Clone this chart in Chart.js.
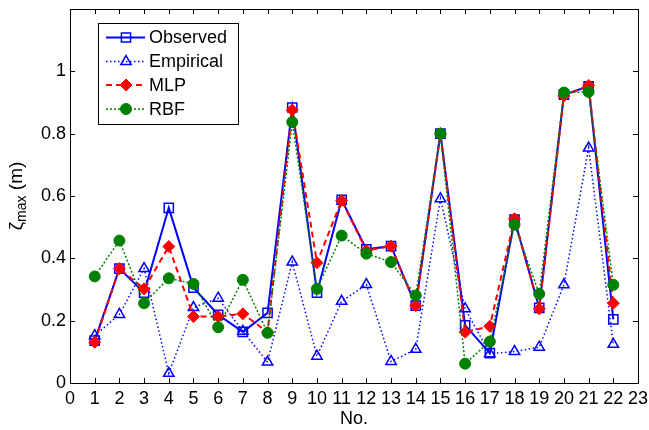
<!DOCTYPE html>
<html>
<head>
<meta charset="utf-8">
<script src="https://cdn.jsdelivr.net/npm/chart.js@4"></script>
<style>
  html, body { margin: 0; padding: 0; background: #fff; }
  #wrap { width: 649px; height: 430px; }
</style>
</head>
<body>
<div id="wrap"><canvas id="chart" width="649" height="430"></canvas></div>
<script>
const caseNos = [1, 2, 3, 4, 5, 6, 7, 8, 9, 10, 11, 12, 13, 14, 15, 16, 17, 18, 19, 20, 21, 22];
const observed = [0.136, 0.367, 0.29, 0.562, 0.306, 0.219, 0.164, 0.225, 0.884, 0.29, 0.588, 0.429, 0.439, 0.248, 0.80, 0.185, 0.096, 0.524, 0.241, 0.925, 0.952, 0.204];
const empirical = [0.152, 0.22, 0.367, 0.031, 0.242, 0.272, 0.166, 0.067, 0.388, 0.086, 0.262, 0.316, 0.069, 0.108, 0.591, 0.238, 0.094, 0.101, 0.115, 0.315, 0.754, 0.124];
const mlp = [0.131, 0.367, 0.302, 0.438, 0.213, 0.213, 0.222, 0.163, 0.876, 0.386, 0.586, 0.425, 0.439, 0.248, 0.80, 0.163, 0.182, 0.527, 0.238, 0.921, 0.955, 0.256];
const rbf = [0.342, 0.457, 0.256, 0.336, 0.318, 0.179, 0.331, 0.161, 0.837, 0.302, 0.473, 0.415, 0.388, 0.281, 0.80, 0.062, 0.133, 0.508, 0.286, 0.932, 0.934, 0.315];
const seriesNames = ['Observed', 'Empirical', 'MLP', 'RBF'];

const FONT = 'Liberation Sans, Arial, sans-serif';

function pts(vals) {
  return vals.map((v, i) => ({ x: caseNos[i], y: v }));
}

// box + inward ticks + y title with subscript + legend, MATLAB style
const matlabDecor = {
  id: 'matlabDecor',
  afterDraw(chart) {
    const ctx = chart.ctx;
    const a = chart.chartArea;
    const xs = chart.scales.x, ys = chart.scales.y;
    ctx.save();
    ctx.strokeStyle = '#000';
    ctx.lineWidth = 1;
    ctx.strokeRect(a.left + 0.5, a.top + 0.5, a.right - a.left, a.bottom - a.top);
    ctx.beginPath();
    xs.ticks.forEach(t => {
      const px = Math.round(xs.getPixelForValue(t.value)) + 0.5;
      ctx.moveTo(px, a.bottom); ctx.lineTo(px, a.bottom - 5);
      ctx.moveTo(px, a.top); ctx.lineTo(px, a.top + 5);
    });
    ys.ticks.forEach(t => {
      const py = Math.round(ys.getPixelForValue(t.value)) + 0.5;
      ctx.moveTo(a.left, py); ctx.lineTo(a.left + 5, py);
      ctx.moveTo(a.right, py); ctx.lineTo(a.right - 5, py);
    });
    ctx.stroke();

    // y axis title: zeta_max (m)
    ctx.save();
    ctx.translate(16, (a.top + a.bottom) / 2);
    ctx.rotate(-Math.PI / 2);
    ctx.fillStyle = '#000';
    ctx.textBaseline = 'alphabetic';
    ctx.textAlign = 'left';
    const big = '19px ' + FONT, small = '14px ' + FONT;
    ctx.font = big; const w1 = ctx.measureText('\u03b6').width;
    ctx.font = small; const w2 = ctx.measureText('max').width;
    ctx.font = big; const w3 = ctx.measureText(' (m)').width;
    const x0 = -(w1 + w2 + w3) / 2;
    ctx.font = big; ctx.fillText('\u03b6', x0, 6);
    ctx.font = small; ctx.fillText('max', x0 + w1, 10);
    ctx.font = big; ctx.fillText(' (m)', x0 + w1 + w2, 6);
    ctx.restore();

    // legend
    const lx = 98, ly = 23, lw = 140, lh = 101;
    ctx.fillStyle = '#fff';
    ctx.fillRect(lx, ly, lw, lh);
    ctx.strokeStyle = '#000';
    ctx.lineWidth = 1;
    ctx.strokeRect(lx + 0.5, ly + 0.5, lw, lh);
    const rowY = [37.5, 61.5, 85, 109];
    chart.data.datasets.forEach((ds, i) => {
      const y = rowY[i];
      ctx.save();
      ctx.strokeStyle = ds.borderColor;
      ctx.lineWidth = ds.borderWidth;
      ctx.setLineDash(ds.borderDash || []);
      ctx.beginPath();
      ctx.moveTo(106, y); ctx.lineTo(145, y);
      ctx.stroke();
      ctx.setLineDash([]);
      ctx.fillStyle = ds.pointBackgroundColor;
      ctx.strokeStyle = ds.pointBorderColor;
      ctx.lineWidth = ds.pointBorderWidth;
      Chart.helpers.drawPoint(ctx, {
        pointStyle: ds.pointStyle,
        radius: ds.pointRadius,
        borderWidth: ds.pointBorderWidth
      }, 126, y);
      ctx.restore();
      ctx.fillStyle = '#000';
      ctx.font = '18px ' + FONT;
      ctx.textAlign = 'left';
      ctx.textBaseline = 'middle';
      ctx.fillText(seriesNames[i], 149, y + 1);
    });
    ctx.restore();
  }
};

new Chart(document.getElementById('chart').getContext('2d'), {
  type: 'line',
  data: {
    datasets: [
      {
        label: seriesNames[0], data: pts(observed), order: 3,
        borderColor: '#0000ff', borderWidth: 2, pointStyle: 'rect',
        pointRadius: 6.5, pointBorderWidth: 1.5, pointBackgroundColor: 'rgba(0,0,0,0)',
        pointBorderColor: '#0000ff'
      },
      {
        label: seriesNames[1], data: pts(empirical), order: 2,
        borderColor: '#0000ff', borderWidth: 1.5, borderDash: [1.5, 2.5], pointStyle: 'triangle',
        pointRadius: 6, pointBorderWidth: 1.5, pointBackgroundColor: 'rgba(0,0,0,0)',
        pointBorderColor: '#0000ff'
      },
      {
        label: seriesNames[2], data: pts(mlp), order: 1,
        borderColor: '#ff0000', borderWidth: 2, borderDash: [6, 4], pointStyle: 'rectRot',
        pointRadius: 6, pointBorderWidth: 1, pointBackgroundColor: '#ff0000',
        pointBorderColor: '#ff0000'
      },
      {
        label: seriesNames[3], data: pts(rbf), order: 0,
        borderColor: '#008000', borderWidth: 1.5, borderDash: [2, 2], pointStyle: 'circle',
        pointRadius: 5.5, pointBorderWidth: 1, pointBackgroundColor: '#008000',
        pointBorderColor: '#008000'
      }
    ]
  },
  options: {
    responsive: false,
    animation: false,
    layout: { padding: { left: 0, right: 11, top: 9, bottom: 0 } },
    plugins: {
      legend: { display: false },
      tooltip: { enabled: false },
      matlabDecor: {}
    },
    scales: {
      x: {
        type: 'linear', min: 0, max: 23,
        afterFit: s => { s.height = 47; s.paddingLeft = 0; s.paddingRight = 0; },
        afterBuildTicks: s => { s.ticks = []; for (let i = 0; i <= 23; i++) s.ticks.push({ value: i }); },
        grid: { display: false, drawTicks: false },
        border: { display: false },
        ticks: { color: '#000', font: { family: FONT, size: 18 }, padding: 5, maxRotation: 0, autoSkip: false },
        title: { display: true, text: 'No.', color: '#000', font: { family: FONT, size: 18 }, padding: { top: 0, bottom: 0 } }
      },
      y: {
        min: 0, max: 1.2,
        afterFit: s => { s.width = 70; s.paddingTop = 0; s.paddingBottom = 0; },
        grid: { display: false, drawTicks: false },
        border: { display: false },
        ticks: {
          stepSize: 0.2, color: '#000', font: { family: FONT, size: 18 }, padding: 4,
          callback: v => (v > 1.05 ? '' : String(Math.round(v * 10) / 10))
        }
      }
    }
  },
  plugins: [matlabDecor]
});
</script>
</body>
</html>
